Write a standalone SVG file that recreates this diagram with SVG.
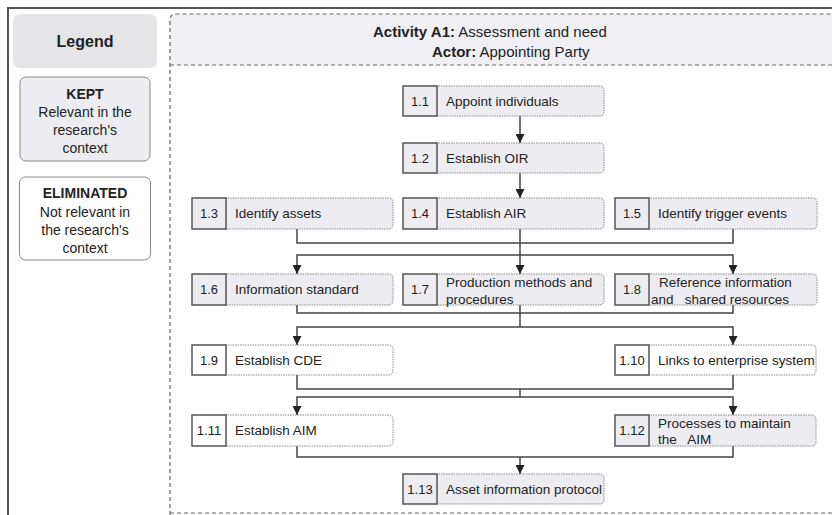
<svg xmlns="http://www.w3.org/2000/svg" width="832" height="515" viewBox="0 0 832 515">
<defs>
<marker id="arr" viewBox="0 0 10 10" refX="10" refY="5" markerWidth="9" markerHeight="9" markerUnits="userSpaceOnUse" orient="auto">
<path d="M0,0 L10,5 L0,10 z" fill="#222"/>
</marker>
<style>
text{font-family:"Liberation Sans",Arial,sans-serif;fill:#222;white-space:pre}
.num{fill:#ededf1;stroke:#555;stroke-width:1.5}
.numw{fill:#fff;stroke:#555;stroke-width:1.5}
.lab{fill:#ededf1;stroke:#888;stroke-width:1;stroke-dasharray:1.5 1}
.labw{fill:#fff;stroke:#888;stroke-width:1;stroke-dasharray:1.5 1}
.nt{font-size:13px;text-anchor:middle}
.lt{font-size:13.5px}
.conn path{fill:none;stroke:#444;stroke-width:1.5}
.dash{fill:none;stroke:#666;stroke-width:1.2;stroke-dasharray:4 3}
.leg{font-size:14px;text-anchor:middle}
</style>
</defs>
<rect width="832" height="515" fill="#fff"/>
<!-- outer frame -->
<path d="M8,515 V8 H832" fill="none" stroke="#555" stroke-width="2"/>
<!-- legend -->
<g id="legend">
<rect x="13" y="14" width="144" height="54" rx="7" fill="#e5e5e7"/>
<text x="85" y="47" style="font-size:16px;font-weight:bold;text-anchor:middle">Legend</text>
</g>
<g id="legend-kept">
<rect x="20" y="77" width="130" height="84" rx="6" fill="#ededf1" stroke="#888" stroke-width="1"/>
<text class="leg" x="85" y="99" font-weight="bold">KEPT</text>
<text class="leg" x="85" y="117">Relevant in the</text>
<text class="leg" x="85" y="135">research's</text>
<text class="leg" x="85" y="153">context</text>
</g>
<g id="legend-eliminated">
<rect x="19.5" y="177" width="131" height="83" rx="6" fill="#fff" stroke="#888" stroke-width="1"/>
<text class="leg" x="85" y="198" font-weight="bold">ELIMINATED</text>
<text class="leg" x="85" y="217">Not relevant in</text>
<text class="leg" x="85" y="235">the research's</text>
<text class="leg" x="85" y="253">context</text>
</g>
<!-- activity frame -->
<g id="activity">
<path d="M170,65 V20 Q170,14 176,14 H832 V65 Z" fill="#f0f0f4"/>
<path class="dash" d="M170,515 V20 Q170,14 176,14 H832"/>
<path class="dash" d="M170,65 H832"/>
<path class="dash" d="M170,513 H832"/>
<text x="373" y="37" style="font-size:15px"><tspan font-weight="bold">Activity A1:</tspan> Assessment and need</text>
<text x="432" y="57" style="font-size:15px"><tspan font-weight="bold">Actor:</tspan> Appointing Party</text>
</g>
<!-- connectors -->
<g id="connectors" class="conn">
<path d="M520,116 V143" marker-end="url(#arr)"/>
<path d="M520,173 V198" marker-end="url(#arr)"/>
<path d="M297,229 V243 H733 V229"/>
<path d="M520,229 V274" marker-end="url(#arr)"/>
<path d="M520,255 H297 V274" marker-end="url(#arr)"/>
<path d="M520,255 H733 V274" marker-end="url(#arr)"/>
<path d="M297,305 V313 H733 V305"/>
<path d="M520,305 V327"/>
<path d="M520,327 H297 V345" marker-end="url(#arr)"/>
<path d="M520,327 H733 V345" marker-end="url(#arr)"/>
<path d="M297,375 V389 H733 V375"/>
<path d="M520,389 V397"/>
<path d="M520,397 H297 V415" marker-end="url(#arr)"/>
<path d="M520,397 H733 V415" marker-end="url(#arr)"/>
<path d="M297,446 V457 H733 V446"/>
<path d="M520,457 V474" marker-end="url(#arr)"/>
</g>
<!-- nodes -->
<g id="n1-1">
<rect class="lab" x="432" y="86" width="172" height="30" rx="4"/>
<rect class="num" x="403" y="86" width="34" height="30"/>
<text class="nt" x="420" y="105.5">1.1</text>
<text class="lt" x="446" y="106">Appoint individuals</text>
</g>
<g id="n1-2">
<rect class="lab" x="432" y="143" width="172" height="30" rx="4"/>
<rect class="num" x="403" y="143" width="34" height="30"/>
<text class="nt" x="420" y="162.5">1.2</text>
<text class="lt" x="446" y="163">Establish OIR</text>
</g>
<g id="n1-3">
<rect class="lab" x="221" y="198" width="172" height="31" rx="4"/>
<rect class="num" x="192" y="198" width="34" height="31"/>
<text class="nt" x="209" y="218">1.3</text>
<text class="lt" x="235" y="218">Identify assets</text>
</g>
<g id="n1-4">
<rect class="lab" x="432" y="198" width="172" height="31" rx="4"/>
<rect class="num" x="403" y="198" width="34" height="31"/>
<text class="nt" x="420" y="218">1.4</text>
<text class="lt" x="446" y="218">Establish AIR</text>
</g>
<g id="n1-5">
<rect class="lab" x="644" y="198" width="173" height="31" rx="4"/>
<rect class="num" x="615" y="198" width="34" height="31"/>
<text class="nt" x="632" y="218">1.5</text>
<text class="lt" x="658" y="218">Identify trigger events</text>
</g>
<g id="n1-6">
<rect class="lab" x="221" y="274" width="172" height="31" rx="4"/>
<rect class="num" x="192" y="274" width="34" height="31"/>
<text class="nt" x="209" y="294">1.6</text>
<text class="lt" x="235" y="294">Information standard</text>
</g>
<g id="n1-7">
<rect class="lab" x="432" y="274" width="172" height="31" rx="4"/>
<rect class="num" x="403" y="274" width="34" height="31"/>
<text class="nt" x="420" y="294">1.7</text>
<text class="lt" x="446" y="287">Production methods and</text>
<text class="lt" x="446" y="304">procedures</text>
</g>
<g id="n1-8">
<rect class="lab" x="644" y="274" width="173" height="31" rx="4"/>
<rect class="num" x="615" y="274" width="34" height="31"/>
<text class="nt" x="632" y="294">1.8</text>
<text class="lt" x="659" y="287">Reference information</text>
<text class="lt" x="651" y="304">and   shared resources</text>
</g>
<g id="n1-9">
<rect class="labw" x="221" y="345" width="172" height="30" rx="4"/>
<rect class="numw" x="192" y="345" width="34" height="30"/>
<text class="nt" x="209" y="364.5">1.9</text>
<text class="lt" x="235" y="365">Establish CDE</text>
</g>
<g id="n1-10">
<rect class="labw" x="644" y="345" width="172" height="30" rx="4"/>
<rect class="numw" x="615" y="345" width="34" height="30"/>
<text class="nt" x="632" y="364.5">1.10</text>
<text class="lt" x="658" y="365">Links to enterprise system</text>
</g>
<g id="n1-11">
<rect class="labw" x="221" y="415" width="172" height="31" rx="4"/>
<rect class="numw" x="192" y="415" width="34" height="31"/>
<text class="nt" x="209" y="435">1.11</text>
<text class="lt" x="235" y="435">Establish AIM</text>
</g>
<g id="n1-12">
<rect class="lab" x="644" y="415" width="172" height="31" rx="4"/>
<rect class="num" x="615" y="415" width="34" height="31"/>
<text class="nt" x="632" y="435">1.12</text>
<text class="lt" x="658" y="428">Processes to maintain</text>
<text class="lt" x="658" y="444">the   AIM</text>
</g>
<g id="n1-13">
<rect class="lab" x="432" y="474" width="172" height="30" rx="4"/>
<rect class="num" x="403" y="474" width="34" height="30"/>
<text class="nt" x="420" y="493.5">1.13</text>
<text class="lt" x="446" y="494">Asset information protocol</text>
</g>
</svg>
